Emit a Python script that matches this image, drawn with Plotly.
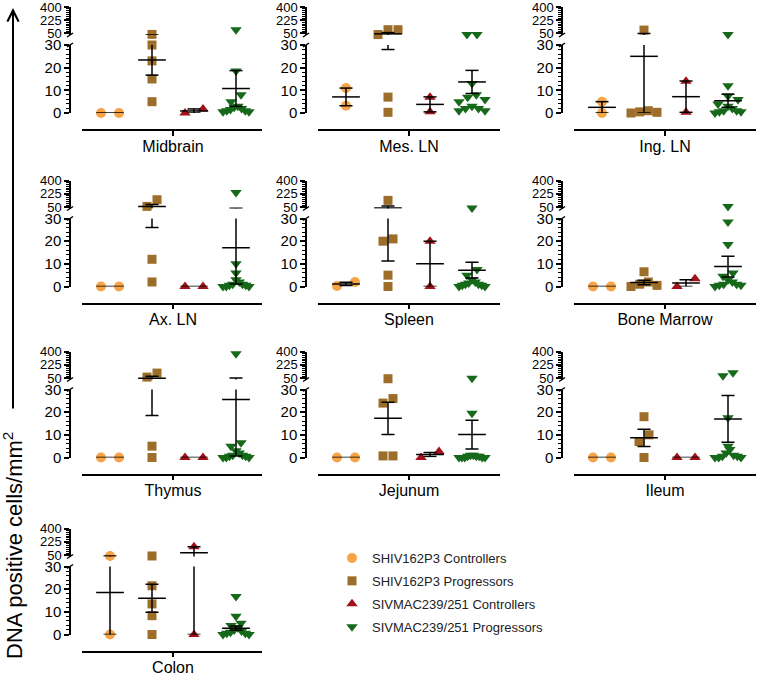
import plotly.graph_objects as go

W, H = 758, 674

# ---------------- data ----------------
tissues = ["Midbrain", "Mes. LN", "Ing. LN", "Ax. LN", "Spleen",
           "Bone Marrow", "Thymus", "Jejunum", "Ileum", "Colon"]
group_names = ["SHIV162P3 Controllers", "SHIV162P3 Progressors",
               "SIVMAC239/251 Controllers", "SIVMAC239/251 Progressors"]

shiv_ctrl = [[0, 0], [11, 3.2], [5, 0], [0, 0], [0.2, 2],
             [0, 0], [0, 0], [0, 0], [0, 0], [37, 0]]
shiv_prog = [[38, 30, 23, 15, 5], [100, 100, 36, 7, 0.3], [95, 1, 0.5, 0.3, 0],
             [58, 146, 12, 2], [137, 20, 21, 5, 0], [6.5, 2, 1, 0.5, 0],
             [62, 115, 5, 0], [40, 24, 26, 0.7, 0.7], [18, 10, 7, 0],
             [37, 21.5, 13.5, 8.3, 0]]
siv_ctrl = [[0, 1.8], [7, 0.5], [14, 0.3], [0, 0], [20, 0],
            [0, 3.4], [0, 0], [0, 2.7], [0, 0], [159, 0]]
siv_prog = [[100, 18.5, 8, 5, 3, 2.5, 2, 1.5, 1, 1, 0.5, 0.5],
            [38, 38, 13, 8, 7, 6, 5, 3, 2, 2, 1, 1],
            [35, 12, 7.5, 6, 4, 3, 2, 1, 1, 0.5, 0.5, 0],
            [240, 10, 6, 3, 2, 1, 1, 0.5, 0.5, 0, 0, 0],
            [38, 7.5, 5, 3, 2, 1.5, 1, 1, 0.5, 0.5, 0, 0],
            [55, 28.5, 18.5, 6, 4.5, 3, 2, 1, 1, 0.5, 0.5, 0],
            [370, 6.5, 5, 3, 2, 1, 1, 0.5, 0.5, 0, 0, 0],
            [48, 19.5, 1, 1, 0.5, 0.5, 0.5, 0, 0, 0, 0, 0],
            [120, 80, 17.5, 5, 3.5, 2, 1, 0.5, 0.5, 0, 0, 0],
            [16.8, 8, 5, 4, 3, 2, 1.5, 1, 0.5, 0.5, 0, 0]]

# mean and SEM bars as drawn
shiv_ctrl_mean = [0, 7.1, 2.5, 0, 1.1, 0, 0, 0, 0, 18.5]
shiv_ctrl_sem = [0, 3.9, 2.5, 0, 0.8, 0, 0, 0, 0, 18.5]
shiv_prog_mean = [23.4, 45, 25, 55, 36.6, 1.8, 45.5, 17.3, 8.7, 16]
shiv_prog_sem = [6.7, 17, 25, 29, 25.4, 1.0, 27, 7.1, 3.8, 6.2]
siv_ctrl_mean = [0.9, 3.8, 7.2, 0, 10, 1.5, 0, 1.3, 0, 79.5]
siv_ctrl_sem = [0.9, 3.3, 6.9, 0, 10, 1.5, 0, 0.9, 0, 79.5]
siv_prog_mean = [10.8, 13.7, 5.4, 17.1, 7.2, 8.8, 25.6, 10.1, 17, 2.8]
siv_prog_sem = [7.9, 5.1, 2.9, 16, 3.5, 4.6, 24.9, 6.3, 10.3, 0.9]

lower_ticks = [0, 10, 20, 30]
upper_ticks = [50, 225, 400]

values = [shiv_ctrl, shiv_prog, siv_ctrl, siv_prog]
means = [shiv_ctrl_mean, shiv_prog_mean, siv_ctrl_mean, siv_prog_mean]
sems = [shiv_ctrl_sem, shiv_prog_sem, siv_ctrl_sem, siv_prog_sem]

# ---------------- styles / layout geometry ----------------
colors = ["#F6A447", "#9D6D2A", "#A3121A", "#17691A"]
symbols = ["circle", "square", "triangle-up", "triangle-down"]
msizes = [10, 9, 10, 10]
FONT = "Liberation Sans, Arial, sans-serif"

BRK = 30.0        # top of lower segment / bottom of upper segment
TOP = 400.0
UP_H, GAP, LOW_H = 28, 10, 68   # pixel heights
PX_CAT = 42.0
col_x0 = [82, 318, 574]
col_w = [180, 182, 182]
col_yx = [70, 306, 562]
row_top = [7, 180.5, 351.5, 528.5]


def disp_px(v):
    if v <= BRK:
        return v * LOW_H / BRK
    return LOW_H + GAP + (v - BRK) * UP_H / (TOP - BRK)


def swarm(vals):
    """Spread overlapping points sideways, Prism-style."""
    offs = [0.0] * len(vals)
    if len(vals) <= 2:
        order = sorted(range(len(vals)), key=lambda i: vals[i])
        p = [disp_px(vals[i]) for i in order]
        if len(order) == 2 and p[1] - p[0] < 8:
            offs[order[0]] = -9 / PX_CAT
            offs[order[1]] = 9 / PX_CAT
        return offs
    order = sorted(range(len(vals)), key=lambda i: vals[i])
    clusters = []
    for i in order:
        p = disp_px(vals[i])
        if clusters and p - clusters[-1][0] < 8:
            clusters[-1][1].append(i)
        else:
            clusters.append([p, [i]])
    for _, idx in clusters:
        n = len(idx)
        if n == 1:
            continue
        step = min(10, 26.0 / (n - 1))
        idx = sorted(idx, key=lambda i: -vals[i])
        # slots: centre-out alternating, highest value in the middle / right
        slots = sorted(range(n), key=lambda s: (abs(s - (n - 1) / 2.0), -s))
        for i, s in zip(idx, slots):
            offs[i] = (s - (n - 1) / 2.0) * step / PX_CAT
    return offs


fig = go.Figure()
layout = dict(width=W, height=H, margin=dict(l=0, r=0, t=0, b=0, pad=0, autoexpand=False),
              paper_bgcolor="white", plot_bgcolor="white",
              font=dict(family=FONT, color="black"), showlegend=True)
shapes = []

for k, tissue in enumerate(tissues):
    r, c = divmod(k, 3)
    top = row_top[r]
    x0 = col_x0[c]
    xw = col_w[c]
    xs = "x" if k == 0 else f"x{k+1}"
    yl = "y" if k == 0 else f"y{2*k+1}"
    yu = f"y{2*k+2}"
    xk = "xaxis" if k == 0 else f"xaxis{k+1}"
    ylk = "yaxis" if k == 0 else f"yaxis{2*k+1}"
    yuk = f"yaxis{2*k+2}"

    x_start = -28.0 / PX_CAT
    layout[xk] = dict(domain=[x0 / W, (x0 + xw) / W],
                      range=[x_start, x_start + xw / PX_CAT],
                      anchor="free", position=1 - (top + UP_H + GAP + LOW_H + 17) / H,
                      showline=True, linecolor="black", linewidth=1.5,
                      tickmode="array", tickvals=[1.5], ticktext=[tissue],
                      ticks="outside", ticklen=5, tickwidth=1.5, tickcolor="black",
                      ticklabelstandoff=-3, ticklabeloverflow="allow",
                      tickfont=dict(size=16, family=FONT), showgrid=False, zeroline=False,
                      automargin=False)
    layout[ylk] = dict(domain=[1 - (top + UP_H + GAP + LOW_H) / H, 1 - (top + UP_H + GAP) / H],
                       range=[0, BRK], anchor="free", position=col_yx[c] / W,
                       tickmode="array", tickvals=lower_ticks,
                       ticks="outside", ticklen=5, tickwidth=1.5, tickcolor="black",
                       minor=dict(dtick=2, tick0=0, ticks="outside", ticklen=3,
                                  tickwidth=1, tickcolor="black"),
                       showline=True, linecolor="black", linewidth=1.5,
                       ticklabeloverflow="allow",
                       tickfont=dict(size=15, family=FONT), showgrid=False, zeroline=False,
                       automargin=False)
    layout[yuk] = dict(domain=[1 - (top + UP_H) / H, 1 - top / H],
                       range=[BRK, TOP], anchor="free", position=col_yx[c] / W,
                       tickmode="linear", tick0=upper_ticks[0],
                       dtick=upper_ticks[1] - upper_ticks[0],
                       ticks="outside", ticklen=5, tickwidth=1.5, tickcolor="black",
                       minor=dict(dtick=25, ticks="outside", ticklen=3,
                                  tickwidth=1, tickcolor="black"),
                       showline=True, linecolor="black", linewidth=1.5,
                       ticklabeloverflow="allow",
                       tickfont=dict(size=13, family=FONT), showgrid=False, zeroline=False,
                       automargin=False)

    # break marks
    bx = col_yx[c]
    for yy in (top + UP_H, top + UP_H + GAP):
        shapes.append(dict(type="line", xref="paper", yref="paper",
                           x0=(bx - 3) / W, x1=(bx + 3) / W,
                           y0=1 - (yy + 2) / H, y1=1 - (yy - 2) / H,
                           line=dict(color="black", width=1.5)))

    # points
    for g in range(4):
        vals = values[g][k]
        offs = swarm(vals)
        lx, ly, ux, uy = [], [], [], []
        for v, o in zip(vals, offs):
            if v > BRK:
                ux.append(g + o); uy.append(v)
            else:
                lx.append(g + o); ly.append(v)
        mk = dict(symbol=symbols[g], size=msizes[g], color=colors[g], line=dict(width=0))
        fig.add_trace(go.Scatter(x=lx, y=ly, xaxis=xs, yaxis=yl, mode="markers",
                                 marker=mk, cliponaxis=False, name=group_names[g],
                                 legendgroup=group_names[g], showlegend=(k == 0),
                                 hoverinfo="skip"))
        if ux:
            fig.add_trace(go.Scatter(x=ux, y=uy, xaxis=xs, yaxis=yu, mode="markers",
                                     marker=mk, cliponaxis=False, name=group_names[g],
                                     legendgroup=group_names[g], showlegend=False,
                                     hoverinfo="skip"))

    # mean +/- SEM
    segs = {"lo": ([], []), "up": ([], [])}

    def add(seg_key, xa, ya):
        segs[seg_key][0].extend(xa + [None])
        segs[seg_key][1].extend(ya + [None])

    for g in range(4):
        m = means[g][k]
        s = sems[g][k]
        key = "up" if m > BRK else "lo"
        add(key, [g - 0.33, g + 0.33], [m, m])
        if s > 0:
            hi, lo = m + s, m - s
            add("lo", [g, g], [lo, hi])
            add("up", [g, g], [lo, hi])
            for yv in (hi, lo):
                kk = "up" if yv > BRK else "lo"
                add(kk, [g - 0.155, g + 0.155], [yv, yv])
    for key, ya in (("lo", yl), ("up", yu)):
        fig.add_trace(go.Scatter(x=segs[key][0], y=segs[key][1], xaxis=xs, yaxis=ya,
                                 mode="lines", line=dict(color="black", width=1.5),
                                 showlegend=False, hoverinfo="skip"))

layout["shapes"] = shapes
layout["legend"] = dict(x=332 / W, y=1 - 543 / H, xanchor="left", yanchor="top",
                        font=dict(size=13, family=FONT, color="#222"),
                        bgcolor="rgba(0,0,0,0)", traceorder="grouped",
                        tracegroupgap=3, itemsizing="trace")
layout["annotations"] = [
    dict(text="DNA positive cells/mm<sup>2</sup>", textangle=-90, xref="paper", yref="paper",
         x=13 / W, y=1 - 546 / H, showarrow=False, font=dict(size=22, family=FONT),
         xanchor="center", yanchor="middle"),
    dict(text="", xref="paper", yref="paper", x=13 / W, y=1 - 8 / H,
         axref="pixel", ayref="pixel", ax=0, ay=402, showarrow=True,
         arrowhead=5, arrowwidth=2, arrowsize=1.1, arrowcolor="black", standoff=0),
]
fig.update_layout(**layout)
fig.write_html("out.html", config={"displayModeBar": False},
               post_script="document.body.style.margin='0px';document.body.style.overflow='hidden';")
